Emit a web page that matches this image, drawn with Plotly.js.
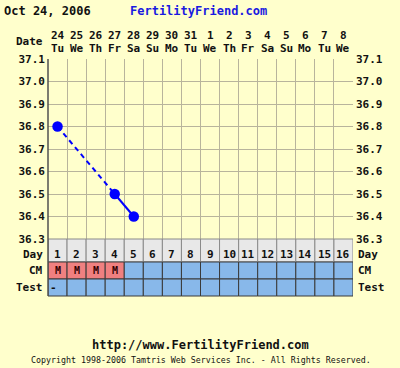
<!DOCTYPE html>
<html>
<head>
<meta charset="utf-8">
<script src="https://cdn.plot.ly/plotly-3.0.1.min.js"></script>
<style>html,body{margin:0;padding:0;background:#ffffcc;}#chart{width:400px;height:368px;}</style>
</head>
<body>
<div id="chart"></div>
<script>
// ---- data ----
const chartDate = "Oct 24, 2006";
const siteName = "FertilityFriend.com";
const cycleDays = [1,2,3,4,5,6,7,8,9,10,11,12,13,14,15,16];
const dateNums = ["24","25","26","27","28","29","30","31","1","2","3","4","5","6","7","8"];
const weekdays = ["Tu","We","Th","Fr","Sa","Su","Mo","Tu","We","Th","Fr","Sa","Su","Mo","Tu","We"];
const tempDays = [1,4,5];
const temps = [36.8,36.5,36.4];
const cmValues = ["M","M","M","M","","","","","","","","","","","",""];
const testValues = ["-","","","","","","","","","","","","","","",""];
const yTicks = [36.3,36.4,36.5,36.6,36.7,36.8,36.9,37.0,37.1];
const footerUrl = "http://www.FertilityFriend.com";
const copyright = "Copyright 1998-2006 Tamtris Web Services Inc. - All Rights Reserved.";

// ---- styles ----
const FONT = "DejaVu Sans Mono";
const BG = "#ffffcc";
const GRID = "#b8b49c";
const BLUE = "#0000ff";
const PINK = "#f08080";
const CELLBLUE = "#88b8ea";
const DAYBG = "#e8e8e8";
const TXT = "#111111";
// table rows in paper coords
const rowDay = [0.1435, 0.2405];
const rowCM = [0.0717, 0.1435];
const rowTest = [0.0, 0.0717];
const dayLabelTop = 0.213;

// temperature traces: dashed across gaps, solid across consecutive days
const traces = [];
for (let i = 0; i < tempDays.length - 1; i++) {
  const gap = tempDays[i+1] - tempDays[i] > 1;
  traces.push({
    x: [tempDays[i], tempDays[i+1]], y: [temps[i], temps[i+1]],
    type: "scatter", mode: "lines", xaxis: "x", yaxis: "y",
    line: {color: BLUE, width: 2, dash: gap ? "5px,4px" : "solid"},
    hoverinfo: "skip", showlegend: false
  });
}
traces.push({
  x: tempDays, y: temps, type: "scatter", mode: "markers",
  marker: {color: BLUE, size: 10.5}, showlegend: false, xaxis: "x", yaxis: "y"
});
// invisible trace for right axis
traces.push({x: [tempDays[0]], y: [temps[0]], yaxis: "y3", xaxis: "x", mode: "markers",
  marker: {opacity: 0}, showlegend: false, hoverinfo: "skip"});

const shapes = [];
const annotations = [];
const tf = (s, c) => ({family: FONT, size: s, color: c || TXT, weight: "bold"});

cycleDays.forEach((d, i) => {
  shapes.push({type: "rect", xref: "x", yref: "paper", x0: d-0.5, x1: d+0.5, y0: rowDay[0], y1: rowDay[1],
    fillcolor: DAYBG, line: {color: "#8a8a8a", width: 1}});
  shapes.push({type: "rect", xref: "x", yref: "paper", x0: d-0.5, x1: d+0.5, y0: rowCM[0], y1: rowCM[1],
    fillcolor: cmValues[i] ? PINK : CELLBLUE, line: {color: "#3a3a3a", width: 1}});
  shapes.push({type: "rect", xref: "x", yref: "paper", x0: d-0.5, x1: d+0.5, y0: rowTest[0], y1: rowTest[1],
    fillcolor: CELLBLUE, line: {color: "#3a3a3a", width: 1}});
  annotations.push({xref: "x", yref: "paper", x: d, y: dayLabelTop, text: String(d),
    showarrow: false, font: tf(11), xanchor: "center", yanchor: "top"});
  if (cmValues[i]) annotations.push({xref: "x", yref: "paper", x: d, y: (rowCM[0]+rowCM[1])/2, text: cmValues[i],
    showarrow: false, font: tf(10, "#300000"), xanchor: "center", yanchor: "middle"});
  if (testValues[i]) annotations.push({xref: "x", yref: "paper", x: d-0.2, y: (rowTest[0]+rowTest[1])/2, text: testValues[i],
    showarrow: false, font: tf(11), xanchor: "center", yanchor: "middle"});
  annotations.push({xref: "x", yref: "paper", x: d, y: 1.101, text: dateNums[i], showarrow: false,
    font: tf(11), xanchor: "center", yanchor: "middle"});
  annotations.push({xref: "x", yref: "paper", x: d, y: 1.046, text: weekdays[i], showarrow: false,
    font: tf(11), xanchor: "center", yanchor: "middle"});
});
// left border line of plot
shapes.push({type: "line", xref: "paper", yref: "paper", x0: 0, x1: 0, y0: 0, y1: 1, line: {color: "#505050", width: 1.5}});

// side labels
annotations.push({xref: "paper", yref: "paper", x: -0.01, y: dayLabelTop, text: "Day", showarrow: false, font: tf(11), xanchor: "right", yanchor: "top"});
annotations.push({xref: "paper", yref: "paper", x: 1.01, y: dayLabelTop, text: "Day", showarrow: false, font: tf(11), xanchor: "left", yanchor: "top"});
const sideLabels = [["CM", (rowCM[0]+rowCM[1])/2], ["Test", (rowTest[0]+rowTest[1])/2]];
sideLabels.forEach(([t, y]) => {
  annotations.push({xref: "paper", yref: "paper", x: -0.01, y: y, text: t, showarrow: false, font: tf(11), xanchor: "right", yanchor: "middle"});
  annotations.push({xref: "paper", yref: "paper", x: 1.01, y: y, text: t, showarrow: false, font: tf(11), xanchor: "left", yanchor: "middle"});
});
annotations.push({xref: "paper", yref: "paper", x: -0.01, y: 1.072, text: "Date", showarrow: false, font: tf(11), xanchor: "right", yanchor: "middle"});
annotations.push({xref: "paper", yref: "paper", x: -0.152, y: 1.2025, text: chartDate, showarrow: false, font: tf(12), xanchor: "left", yanchor: "middle"});
annotations.push({xref: "paper", yref: "paper", x: 0.492, y: 1.2025, text: siteName, showarrow: false, font: tf(12, "#1a1ae0"), xanchor: "center", yanchor: "middle"});
annotations.push({xref: "paper", yref: "paper", x: 0.5, y: -0.207, text: footerUrl, showarrow: false, font: tf(12), xanchor: "center", yanchor: "middle"});
annotations.push({xref: "paper", yref: "paper", x: 0.5, y: -0.27, text: copyright, showarrow: false,
  font: {family: FONT, size: 8.3, color: TXT}, xanchor: "center", yanchor: "middle"});

const yTickText = yTicks.map(v => v.toFixed(1));
const layout = {
  width: 400, height: 368,
  margin: {l: 48, r: 47, t: 59, b: 72, pad: 0},
  paper_bgcolor: BG, plot_bgcolor: BG,
  showlegend: false,
  xaxis: {range: [0.5, 16.5], tickmode: "linear", tick0: 0.5, dtick: 1, showticklabels: false,
    showgrid: true, gridcolor: GRID, gridwidth: 1, zeroline: false, ticks: "", anchor: "y", fixedrange: true},
  yaxis: {domain: [0.2405, 1], range: [36.3, 37.1], tickmode: "array", tickvals: yTicks, ticktext: yTickText,
    showgrid: true, gridcolor: GRID, gridwidth: 1, zeroline: false, ticks: "", ticklabelstandoff: 2,
    tickfont: tf(11), showline: false},
  yaxis3: {domain: [0.2405, 1], range: [36.3, 37.1], overlaying: "y", side: "right", anchor: "x",
    tickmode: "array", tickvals: yTicks, ticktext: yTickText, showgrid: false, zeroline: false,
    ticks: "", ticklabelstandoff: 2, tickfont: tf(11)},
  shapes: shapes,
  annotations: annotations
};
Plotly.newPlot("chart", traces, layout, {staticPlot: true, displayModeBar: false});
</script>
</body>
</html>
